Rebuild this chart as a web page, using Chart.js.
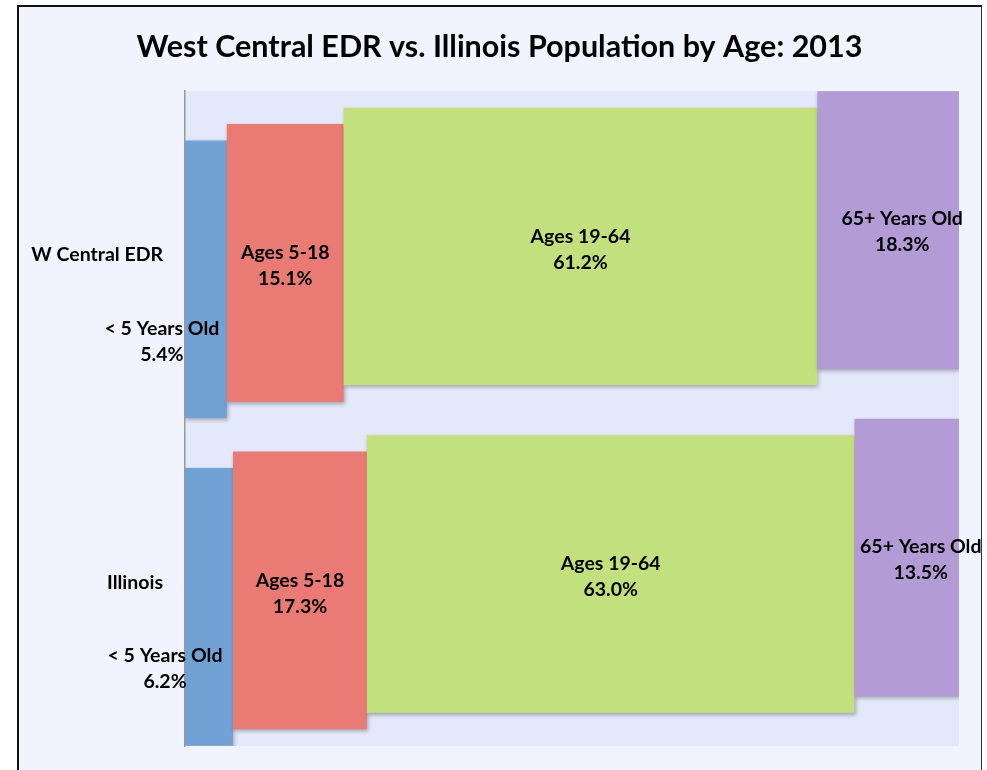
<!DOCTYPE html>
<html>
<head>
<meta charset="utf-8">
<script src="https://cdn.jsdelivr.net/npm/chart.js@4.4.1/dist/chart.umd.min.js"></script>
<style>
  html, body { margin: 0; padding: 0; background: #fff; }
  #frame {
    position: absolute; left: 17px; top: 5px; width: 962px; height: 800px;
    background: #F1F3FE; border: 2px solid #111; border-right: 1.5px solid #333; border-bottom: none;
  }
  #wrap { position: absolute; left: 0; top: 0; width: 987px; height: 770px; }
</style>
</head>
<body>
<div id="frame"></div>
<div id="wrap"><canvas id="chart" width="987" height="770"></canvas></div>
<script>
// regions (top to bottom)
const regions = ['W Central EDR', 'Illinois'];

// age groups, left to right
const ageGroups = ['< 5 Years Old', 'Ages 5-18', 'Ages 19-64', '65+ Years Old'];

// percent of population per age group, one array per region
const wCentralPct = [5.4, 15.1, 61.2, 18.3];
const illinoisPct = [6.2, 17.3, 63.0, 13.5];

const colors = ['#72A1D6', '#E97A74', '#C3E07E', '#B39BD6'];

// where Excel put the labels that did not fit (px offset from bar centre)
const labelShift = [{ dx: -44, dy: 62 }, { dx: 0, dy: 3 }, { dx: 0, dy: 3 }, { dx: 14, dy: 2 }];

const rows = [wCentralPct, illinoisPct];

// floating bars: [start, end] from running totals
function spans(pct) {
  let run = 0;
  return pct.map(v => {
    const s = [run, run + v];
    run += v;
    return s;
  });
}
const rowSpans = rows.map(spans);

// first dataset sits on top of the band, so go right to left
const datasets = ageGroups.map((name, i) => ({
  label: name,
  data: rowSpans.map(r => r[i]),
  pct: rows.map(r => r[i]),
  backgroundColor: colors[i],
  shift: labelShift[i],
  categoryPercentage: 0.2,
  barPercentage: 16.95
})).reverse();

const plotBg = {
  id: 'plotBg',
  afterLayout(chart) {
    // let the category labels run into the left padding instead of being clipped
    chart.scales.y.left = 0;
  },
  beforeDraw(chart) {
    const { ctx, chartArea: a } = chart;
    ctx.save();
    ctx.fillStyle = '#E3E8FB';
    ctx.fillRect(a.left, a.top, a.right - a.left, a.bottom - a.top);
    ctx.restore();
  }
};

const barShadow = {
  id: 'barShadow',
  beforeDatasetDraw(chart) {
    const ctx = chart.ctx;
    ctx.save();
    ctx.shadowColor = 'rgba(0,0,0,0.3)';
    ctx.shadowBlur = 4;
    ctx.shadowOffsetX = 1;
    ctx.shadowOffsetY = 2;
  },
  afterDatasetDraw(chart) {
    chart.ctx.restore();
  }
};

const barLabels = {
  id: 'barLabels',
  afterDatasetsDraw(chart) {
    const ctx = chart.ctx;
    ctx.save();
    ctx.font = 'bold 19.5px Lato';
    ctx.fillStyle = '#000';
    ctx.textAlign = 'center';
    ctx.textBaseline = 'middle';
    chart.data.datasets.forEach((ds, di) => {
      chart.getDatasetMeta(di).data.forEach((bar, j) => {
        const c = bar.getCenterPoint();
        const x = c.x + ds.shift.dx;
        const y = c.y + ds.shift.dy;
        ctx.fillText(ds.label, x, y - 13);
        ctx.fillText(ds.pct[j].toFixed(1) + '%', x, y + 13);
      });
    });
    ctx.restore();
  }
};

new Chart(document.getElementById('chart'), {
  type: 'bar',
  data: { labels: regions, datasets },
  plugins: [plotBg, barShadow, barLabels],
  options: {
    indexAxis: 'y',
    responsive: false,
    animation: false,
    layout: { padding: { left: 40, right: 28, top: 0, bottom: 24 } },
    plugins: {
      legend: { display: false },
      tooltip: { enabled: false },
      title: {
        display: true,
        text: 'West Central EDR vs. Illinois Population by Age: 2013',
        color: '#000',
        font: { family: 'Lato', size: 30.5, weight: 'bold' },
        padding: { top: 29, bottom: 25.3 }
      }
    },
    scales: {
      x: { display: false, min: 0, max: 100 },
      y: {
        grid: { display: false, drawTicks: false },
        border: { display: true, color: '#999', width: 1.5 },
        ticks: { color: '#000', padding: 22, font: { family: 'Lato', size: 19.5, weight: 'bold' } },
        afterFit(scale) {
          scale.width = 145;
          scale.paddingTop = 0;
          scale.paddingBottom = 0;
        }
      }
    }
  }
});
</script>
</body>
</html>
